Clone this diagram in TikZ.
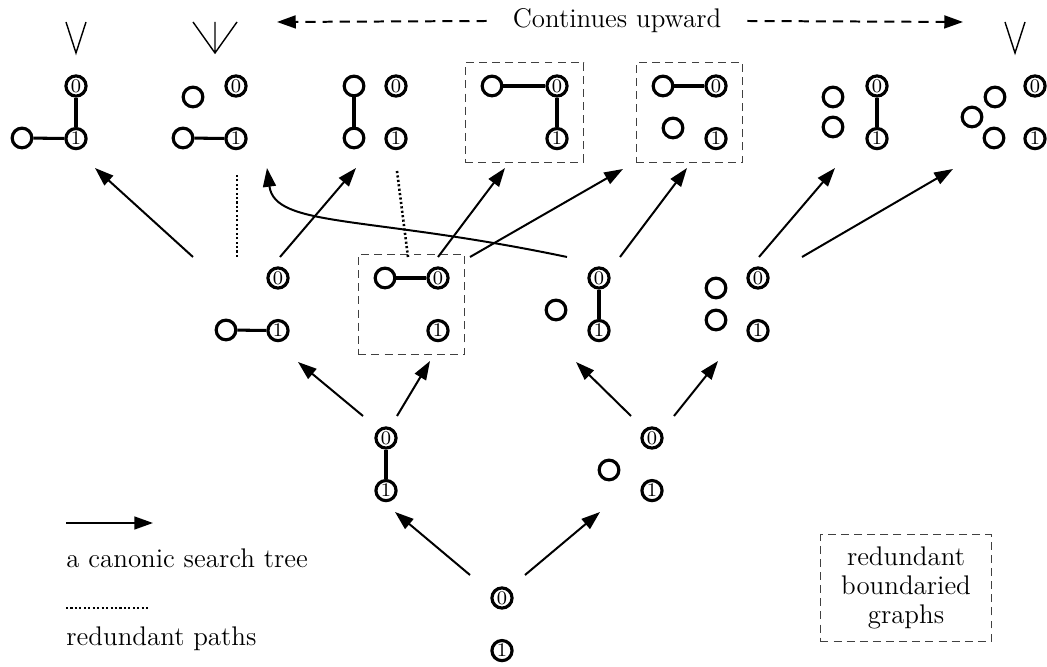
\documentclass[tikz,border=0pt]{standalone}
\usepackage{tikz}
\usetikzlibrary{arrows.meta, positioning, fit}

\begin{document}
\begin{tikzpicture}[x=0.015cm, y=-0.015cm, node distance=12.5pt,
        bnd/.style={circle, draw, line width=1.35pt, inner sep=0pt, minimum size=8.6pt, font=\fontsize{8.2}{8.2}\selectfont},
        vtx/.style={circle, draw, line width=1.35pt, inner sep=0pt, minimum size=8.4pt},
        edge/.style={line width=1.3pt},
        tree/.style={-{Triangle[length=8pt,width=5.5pt]}, line width=0.85pt},
        redund/.style={line width=1.1pt, dash pattern=on 0.9pt off 1pt},
        rbox/.style={draw=black!75, thin, dash pattern=on 3.4pt off 2.2pt, inner xsep=6.5pt, inner ysep=5pt},
        vee/.style={line width=0.6pt},
        lbl/.style={font=\fontsize{11.5}{13}\selectfont}]
    \useasboundingbox (0,0) rectangle (1047,667);

    % root
    \node[bnd] (r-0) at (502,598) {0};
    \node[bnd, below=of r-0] (r-1) {1};

    % first level
    \node[bnd] (l1-0) at (386,438) {0};
    \node[bnd, below=of l1-0] (l1-1) {1};
    \node[bnd] (l2-0) at (652,438) {0};
    \node[bnd, below=of l2-0] (l2-1) {1};
    \node[vtx] (l2-a) at (609,470) {};
    \draw[edge] (l1-0) -- (l1-1);

    % second level
    \node[bnd] (m1-0) at (278,278) {0};
    \node[bnd, below=of m1-0] (m1-1) {1};
    \node[vtx] (m1-a) at (226,330) {};
    \node[bnd] (m2-0) at (438,278) {0};
    \node[bnd, below=of m2-0] (m2-1) {1};
    \node[vtx] (m2-a) at (385,278) {};
    \node[bnd] (m3-0) at (599,278) {0};
    \node[bnd, below=of m3-0] (m3-1) {1};
    \node[vtx] (m3-a) at (556,310) {};
    \node[bnd] (m4-0) at (758,278) {0};
    \node[bnd, below=of m4-0] (m4-1) {1};
    \node[vtx] (m4-a) at (716,288) {};
    \node[vtx] (m4-b) at (716,320) {};
    \draw[edge] (m1-a) -- (m1-1);
    \draw[edge] (m2-a) -- (m2-0);
    \draw[edge] (m3-0) -- (m3-1);
    \node[rbox, fit=(m2-a)(m2-0)(m2-1)] (m2-box) {};

    % third level
    \node[bnd] (t1-0) at (76,86) {0};
    \node[bnd, below=of t1-0] (t1-1) {1};
    \node[vtx] (t1-a) at (22,138) {};
    \node[bnd] (t2-0) at (236,86) {0};
    \node[bnd, below=of t2-0] (t2-1) {1};
    \node[vtx] (t2-a) at (193,97) {};
    \node[vtx] (t2-b) at (183,138) {};
    \node[bnd] (t3-0) at (396,86) {0};
    \node[bnd, below=of t3-0] (t3-1) {1};
    \node[vtx] (t3-a) at (354,86) {};
    \node[vtx] (t3-b) at (354,138) {};
    \node[bnd] (t4-0) at (557,86) {0};
    \node[bnd, below=of t4-0] (t4-1) {1};
    \node[vtx] (t4-a) at (492,86) {};
    \node[bnd] (t5-0) at (716,86) {0};
    \node[bnd, below=of t5-0] (t5-1) {1};
    \node[vtx] (t5-a) at (663,86) {};
    \node[vtx] (t5-b) at (673,128) {};
    \node[bnd] (t6-0) at (877,86) {0};
    \node[bnd, below=of t6-0] (t6-1) {1};
    \node[vtx] (t6-a) at (833,97) {};
    \node[vtx] (t6-b) at (833,127) {};
    \node[bnd] (t7-0) at (1035,86) {0};
    \node[bnd, below=of t7-0] (t7-1) {1};
    \node[vtx] (t7-a) at (995,97) {};
    \node[vtx] (t7-b) at (972,117) {};
    \node[vtx] (t7-c) at (994,138) {};
    \draw[edge] (t1-0) -- (t1-1);
    \draw[edge] (t1-a) -- (t1-1);
    \draw[edge] (t2-b) -- (t2-1);
    \draw[edge] (t3-a) -- (t3-b);
    \draw[edge] (t4-a) -- (t4-0) -- (t4-1);
    \draw[edge] (t5-a) -- (t5-0);
    \draw[edge] (t6-0) -- (t6-1);
    \node[rbox, fit=(t4-a)(t4-0)(t4-1)] (t4-box) {};
    \node[rbox, fit=(t5-a)(t5-0)(t5-1)] (t5-box) {};

    % joins above the top graphs
    \draw[vee] (66,22) -- (76,53) -- (86,22);
    \draw[vee] (193,22) -- (215,53) -- (237,22) (215,22) -- (215,53);
    \draw[vee] (1005,22) -- (1015,53) -- (1025,22);

    % arrow ends
    \coordinate (r-out1) at (470,575);
    \coordinate (r-out2) at (525,575);
    \coordinate (l1-in) at (395,512);
    \coordinate (l2-in) at (600,512);
    \coordinate (l1-out1) at (363,416);
    \coordinate (l1-out2) at (397,416);
    \coordinate (l2-out1) at (631,416);
    \coordinate (l2-out2) at (674,416);
    \coordinate (m1-in) at (298,362);
    \coordinate (m2-in) at (430,361);
    \coordinate (m3-in) at (576,362);
    \coordinate (m4-in) at (718,361);
    \coordinate (m1-out1) at (193,257);
    \coordinate (m1-out2) at (237,257);
    \coordinate (m1-out3) at (280,257);
    \coordinate (m2-out1) at (408,257);
    \coordinate (m2-out2) at (438,257);
    \coordinate (m2-out3) at (470,257);
    \coordinate (m3-out1) at (567,257);
    \coordinate (m3-out2) at (620,257);
    \coordinate (m4-out1) at (759,257);
    \coordinate (m4-out2) at (802,257);
    \coordinate (t1-in) at (95,168);
    \coordinate (t2-in) at (267,168);
    \coordinate (t2-in2) at (237,173);
    \coordinate (t3-in) at (356,168);
    \coordinate (t3-in2) at (397,171);
    \coordinate (t4-in) at (505,168);
    \coordinate (t5-in) at (623,169);
    \coordinate (t5-in2) at (687,168);
    \coordinate (t6-in) at (835,168);
    \coordinate (t7-in) at (953,169);

    \draw[tree] (r-out1) -- (l1-in);
    \draw[tree] (r-out2) -- (l2-in);
    \draw[tree] (l1-out1) -- (m1-in);
    \draw[tree] (l1-out2) -- (m2-in);
    \draw[tree] (l2-out1) -- (m3-in);
    \draw[tree] (l2-out2) -- (m4-in);
    \draw[tree] (m1-out1) -- (t1-in);
    \draw[tree] (m1-out3) -- (t3-in);
    \draw[tree] (m2-out2) -- (t4-in);
    \draw[tree] (m2-out3) -- (t5-in);
    \draw[tree] (m3-out1) .. controls (367,215) and (275,228) .. (t2-in);
    \draw[tree] (m3-out2) -- (t5-in2);
    \draw[tree] (m4-out1) -- (t6-in);
    \draw[tree] (m4-out2) -- (t7-in);
    \draw[redund] (m1-out2) -- (t2-in2);
    \draw[redund] (m2-out1) -- (t3-in2);

    % continues upward
    \node[lbl, inner xsep=11pt] (up) at (617,21) {Continues upward};
    \coordinate (up-l) at (277,22);
    \coordinate (up-r) at (963,22);
    \draw[tree, dash pattern=on 4.3pt off 3pt] (up.west) -- (up-l);
    \draw[tree, dash pattern=on 4.3pt off 3pt] (up.east) -- (up-r);

    % legend
    \coordinate (key-a1) at (66,523);
    \coordinate (key-a2) at (153,523);
    \coordinate (key-d1) at (66,608);
    \coordinate (key-d2) at (148,608);
    \draw[tree] (key-a1) -- (key-a2);
    \node[lbl, anchor=west, inner sep=0pt] (key-tree) at (66,558) {a canonic search tree};
    \draw[redund] (key-d1) -- (key-d2);
    \node[lbl, anchor=west, inner sep=0pt] (key-paths) at (66,639) {redundant paths};
    \node[rbox, lbl, align=center, minimum width=73pt, minimum height=40.5pt,
        font=\fontsize{11.5}{12.5}\selectfont] (key-box) at (906,588) {redundant\\boundaried\\graphs};
\end{tikzpicture}
\end{document}
